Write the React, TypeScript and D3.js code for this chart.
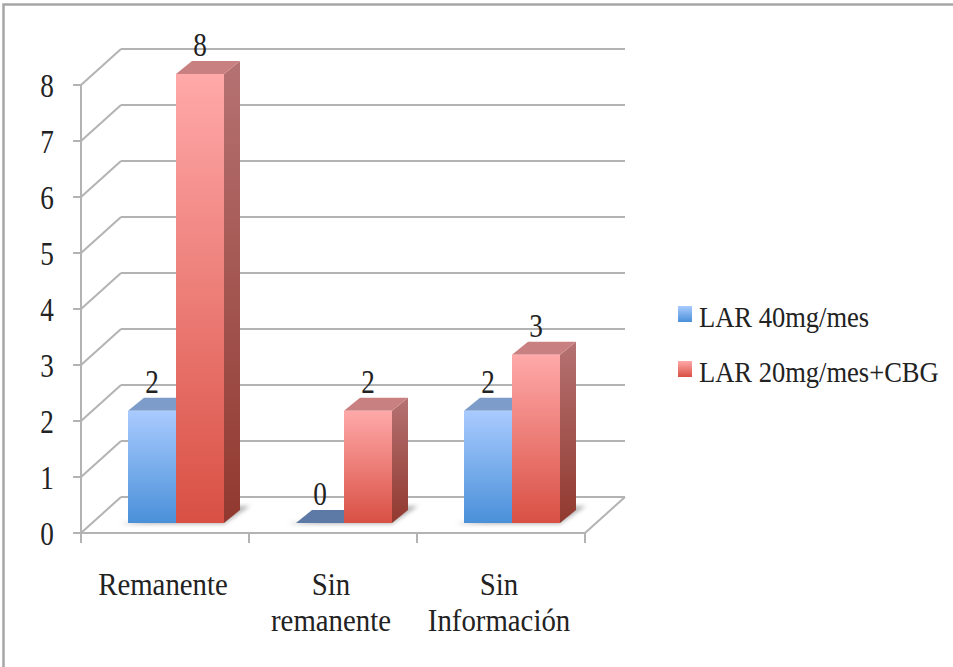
import React from "react";
import * as d3 from "d3";

const categories = [["Remanente"], ["Sin", "remanente"], ["Sin", "Información"]];
const seriesNames = ["LAR 40mg/mes", "LAR 20mg/mes+CBG"];
const lar40 = [2, 0, 2];
const lar20 = [8, 2, 3];
const yTicks = [0, 1, 2, 3, 4, 5, 6, 7, 8];

const FONT = "'Liberation Serif', serif";
const GRID = "#b3b3b3";
const TEXT = "#222";

// Oblique projection: the back wall is offset from the front plane by this much.
const wallDx = 40;
const wallDy = -36;
const barDx = 16;
const barDy = -13;

const yFront = d3.scaleLinear().domain([0, 8]).range([533, 85]);
const yBar = d3.scaleLinear().domain([0, 8]).range([523, 74]);
const xCat = d3.scaleBand<number>().domain([0, 1, 2]).range([81, 585]);
const xSeries = d3.scaleBand<number>().domain([0, 1]).range([47, 143]);

type Palette = { side: string; top: string; id: string };
const blue: Palette = { side: "#4f77a8", top: "#7d9cc9", id: "blue" };
const red: Palette = { side: "url(#redSide)", top: "#c98080", id: "red" };

// Serif text with a narrowed horizontal scale, giving tall condensed glyphs.
function Condensed({
  x,
  y,
  size,
  sx,
  anchor = "middle",
  children,
}: {
  x: number;
  y: number;
  size: number;
  sx: number;
  anchor?: string;
  children: React.ReactNode;
}) {
  return (
    <text
      transform={`translate(${x},${y}) scale(${sx},1)`}
      textAnchor={anchor}
      fontSize={size}
      fill={TEXT}
      fontFamily={FONT}
    >
      {children}
    </text>
  );
}

function Bar({ cat, s, value, p }: { cat: number; s: number; value: number; p: Palette }) {
  const x0 = xCat(cat)! + xSeries(s)!;
  const w = xSeries.bandwidth();
  const yTop = yBar(value);
  const yBase = yBar(0);
  const x1 = x0 + w;
  const topColor = value === 0 ? "#5d7aa6" : p.top;
  return (
    <g>
      <polygon
        points={`${x1},${yTop} ${x1 + barDx},${yTop + barDy} ${x1 + barDx},${yBase + barDy} ${x1},${yBase}`}
        fill={p.side}
      />
      <polygon
        points={`${x0},${yTop} ${x0 + barDx},${yTop + barDy} ${x1 + barDx},${yTop + barDy} ${x1},${yTop}`}
        fill={topColor}
      />
      {value > 0 && <rect x={x0} y={yTop} width={w} height={yBase - yTop} fill={`url(#${p.id}Front)`} />}
    </g>
  );
}

export default function App() {
  const series = [
    { values: lar40, p: blue },
    { values: lar20, p: red },
  ];
  return (
    <svg
      width={953}
      height={667}
      style={{ position: "absolute", left: 0, top: 0, background: "#fff" }}
    >
      <defs>
        <linearGradient id="blueFront" x1="0" y1="0" x2="0" y2="1">
          <stop offset="0" stopColor="#a9cbff" />
          <stop offset="1" stopColor="#4a90d9" />
        </linearGradient>
        <linearGradient id="redFront" x1="0" y1="0" x2="0" y2="1">
          <stop offset="0" stopColor="#ffa9a9" />
          <stop offset="1" stopColor="#d95044" />
        </linearGradient>
        <linearGradient id="redSide" x1="0" y1="0" x2="0" y2="1">
          <stop offset="0" stopColor="#b57272" />
          <stop offset="1" stopColor="#91392f" />
        </linearGradient>
        <filter id="soft" x="-30%" y="-80%" width="160%" height="260%">
          <feGaussianBlur stdDeviation="2" />
        </filter>
      </defs>

      {/* outer frame */}
      <path d="M3.5,667 V4.5 H953" fill="none" stroke="#a6a6a6" strokeWidth={2.5} />

      {/* back wall grid and side-wall diagonals */}
      {yTicks.map((t) => (
        <g key={t}>
          <line
            x1={xCat.range()[0]}
            y1={yFront(t)}
            x2={xCat.range()[0] + wallDx}
            y2={yFront(t) + wallDy}
            stroke={GRID}
            strokeWidth={2}
          />
          <line
            x1={xCat.range()[0] + wallDx}
            y1={yFront(t) + wallDy}
            x2={xCat.range()[1] + wallDx}
            y2={yFront(t) + wallDy}
            stroke={GRID}
            strokeWidth={2}
          />
          <line x1={73} y1={yFront(t)} x2={81} y2={yFront(t)} stroke={GRID} strokeWidth={2} />
          <Condensed x={47} y={yFront(t) + 12} size={34} sx={0.8}>
            {t}
          </Condensed>
        </g>
      ))}

      {/* floor edges and front axes */}
      <line x1={81} y1={yFront(8)} x2={81} y2={yFront(0)} stroke={GRID} strokeWidth={2} />
      <line x1={81} y1={yFront(0)} x2={585} y2={yFront(0)} stroke={GRID} strokeWidth={2} />
      <line x1={585} y1={yFront(0)} x2={625} y2={yFront(0) + wallDy} stroke={GRID} strokeWidth={2} />
      {[0, 1, 2].map((c) => (
        <line key={c} x1={xCat(c)!} y1={533} x2={xCat(c)!} y2={543} stroke={GRID} strokeWidth={2} />
      ))}
      <line x1={585} y1={533} x2={585} y2={543} stroke={GRID} strokeWidth={2} />

      {/* floor shadows beneath each cluster */}
      {[0, 1, 2].map((c) => {
        const x0 = xCat(c)! + xSeries(0)!;
        const x1 = xCat(c)! + xSeries(1)! + xSeries.bandwidth();
        const base = yBar(0);
        return (
          <polygon
            key={c}
            points={`${x0 - 8},${base + 1} ${x1},${base + 1} ${x1 + 26},${base - 17} ${x1 + 10},${base - 17}`}
            fill="#b5b5b5"
            filter="url(#soft)"
          />
        );
      })}

      {/* bars, blue before red so the red side overlaps correctly */}
      {series.map(({ values, p }, s) =>
        values.map((v, c) => <Bar key={`${s}-${c}`} cat={c} s={s} value={v} p={p} />)
      )}

      {/* value labels above the bar tops */}
      {series.map(({ values }, s) =>
        values.map((v, c) => (
          <Condensed
            key={`${s}-${c}`}
            x={xCat(c)! + xSeries(s)! + xSeries.bandwidth() / 2}
            y={yBar(v) + barDy - 5}
            size={34}
            sx={0.8}
          >
            {v}
          </Condensed>
        ))
      )}

      {/* category labels */}
      {categories.map((lines, c) => {
        const cx = xCat(c)! + xCat.bandwidth() / 2;
        return lines.map((l, i) => (
          <Condensed key={`${c}-${i}`} x={cx - 2} y={595 + i * 36} size={31} sx={0.93}>
            {l}
          </Condensed>
        ));
      })}

      {/* legend */}
      {seriesNames.map((name, i) => (
        <g key={name}>
          <rect x={678} y={306 + i * 55} width={14} height={16} fill={`url(#${i === 0 ? "blue" : "red"}Front)`} />
          <Condensed x={699} y={327 + i * 55} size={29} sx={0.915} anchor="start">
            {name}
          </Condensed>
        </g>
      ))}
    </svg>
  );
}
